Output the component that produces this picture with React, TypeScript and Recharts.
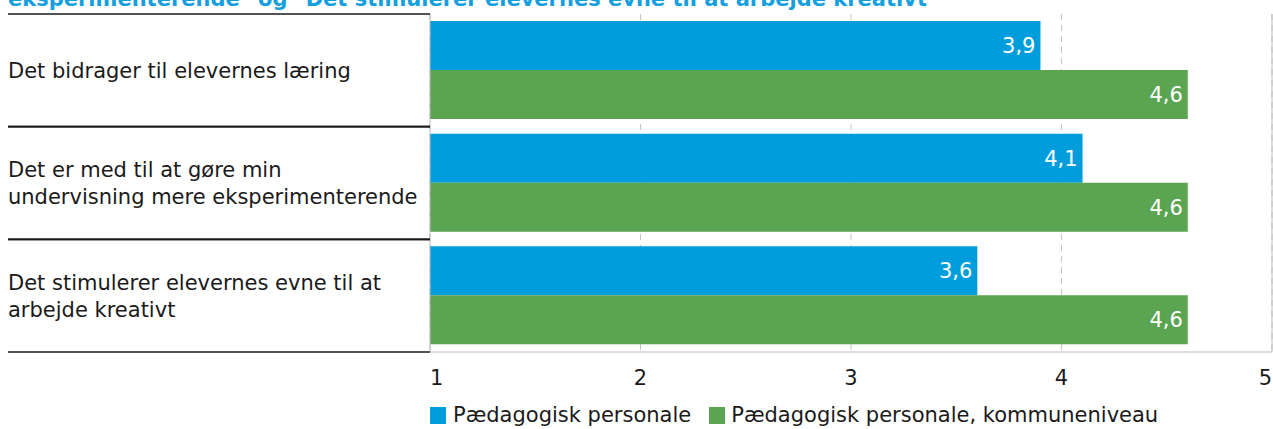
import {
  BarChart,
  Bar,
  XAxis,
  YAxis,
  CartesianGrid,
  LabelList,
  ReferenceLine,
} from 'recharts';

// category labels, already broken into the lines used in the original
const categories = [
  ['Det bidrager til elevernes læring'],
  ['Det er med til at gøre min', 'undervisning mere eksperimenterende'],
  ['Det stimulerer elevernes evne til at', 'arbejde kreativt'],
];
const personale = [3.9, 4.1, 3.6];
const kommuneniveau = [4.6, 4.6, 4.6];
const xTicks = [1, 2, 3, 4, 5];
const seriesNames = ['Pædagogisk personale', 'Pædagogisk personale, kommuneniveau'];
const titleText =
  'eksperimenterende" og "Det stimulerer elevernes evne til at arbejde kreativt"';

const BLUE = '#009ddc';
const GREEN = '#5ba552';
const FONT = '"DejaVu Sans", Verdana, sans-serif';

const W = 1273;
const H = 429;
const TOP = 14;
const X_AXIS_H = 77;
const Y_AXIS_W = 430;
const BAND = (H - TOP - X_AXIS_H) / categories.length;

const data = categories.map((lines, i) => ({
  name: lines.join('\n'),
  personale: personale[i],
  kommune: kommuneniveau[i],
}));

const fmt = (v: any) => String(v).replace('.', ',');

function YTick({ y, payload }: any) {
  const lines = String(payload.value).split('\n');
  const lh = 27;
  const first = y - ((lines.length - 1) * lh) / 2 + 7.5;
  return (
    <g>
      <line x1={8} x2={Y_AXIS_W} y1={y - BAND / 2} y2={y - BAND / 2} stroke="#1a1a1a" strokeWidth={1.6} />
      <line x1={8} x2={Y_AXIS_W} y1={y + BAND / 2} y2={y + BAND / 2} stroke="#1a1a1a" strokeWidth={1.6} />
      <text x={8} y={first} fill="#1a1a1a" fontSize={21}>
        {lines.map((l, i) => (
          <tspan key={i} x={8} y={first + i * lh}>
            {l}
          </tspan>
        ))}
      </text>
    </g>
  );
}

function XTick({ x, y, payload, index }: any) {
  const anchor = index === 0 ? 'start' : index === xTicks.length - 1 ? 'end' : 'middle';
  return (
    <text x={x} y={y} dy={25} textAnchor={anchor} fill="#1a1a1a" fontSize={21}>
      {payload.value}
    </text>
  );
}

export default function App() {
  return (
    <div style={{ position: 'absolute', left: 0, top: 0, width: W, height: H, fontFamily: FONT, overflow: 'hidden' }}>
      {/* title sits mostly above the frame, as in the original crop */}
      <div
        style={{
          position: 'absolute',
          left: 8,
          top: -11,
          fontSize: 21,
          lineHeight: '21px',
          fontWeight: 'bold',
          color: '#14a0e0',
          whiteSpace: 'nowrap',
        }}
      >
        {titleText}
      </div>

      <BarChart
        width={W}
        height={H}
        data={data}
        layout="vertical"
        margin={{ top: TOP, right: 1, bottom: 0, left: 0 }}
        barCategoryGap={7}
        barGap={0}
      >
        <CartesianGrid horizontal={false} stroke="#c4c4c4" strokeDasharray="6 5" />
        <XAxis
          type="number"
          domain={[1, 5]}
          ticks={xTicks}
          height={X_AXIS_H}
          axisLine={{ stroke: '#bdbdbd' }}
          tickLine={false}
          tick={<XTick />}
          interval={0}
          allowDataOverflow
        />
        <XAxis
          xAxisId="top"
          orientation="top"
          type="number"
          domain={[1, 5]}
          height={0}
          axisLine={{ stroke: '#bdbdbd' }}
          tickLine={false}
          tick={false}
        />
        <YAxis
          type="category"
          dataKey="name"
          width={Y_AXIS_W}
          axisLine={{ stroke: '#bdbdbd' }}
          tickLine={false}
          tick={<YTick />}
          interval={0}
        />
        <ReferenceLine x={5} stroke="#bdbdbd" />
        <Bar dataKey="personale" name={seriesNames[0]} fill={BLUE} isAnimationActive={false}>
          <LabelList dataKey="personale" position="insideRight" formatter={fmt} fill="#fff" fontSize={21} />
        </Bar>
        <Bar dataKey="kommune" name={seriesNames[1]} fill={GREEN} isAnimationActive={false}>
          <LabelList dataKey="kommune" position="insideRight" formatter={fmt} fill="#fff" fontSize={21} />
        </Bar>
      </BarChart>

      <div
        style={{
          position: 'absolute',
          left: 430,
          top: 405,
          display: 'flex',
          fontSize: 21,
          lineHeight: '21px',
          color: '#1a1a1a',
          whiteSpace: 'nowrap',
        }}
      >
        {seriesNames.map((n, i) => (
          <div key={n} style={{ display: 'flex', marginRight: 18 }}>
            <span style={{ width: 16, height: 17, marginTop: 2, marginRight: i === 0 ? 7 : 6, background: i === 0 ? BLUE : GREEN }} />
            <span>{n}</span>
          </div>
        ))}
      </div>
    </div>
  );
}
